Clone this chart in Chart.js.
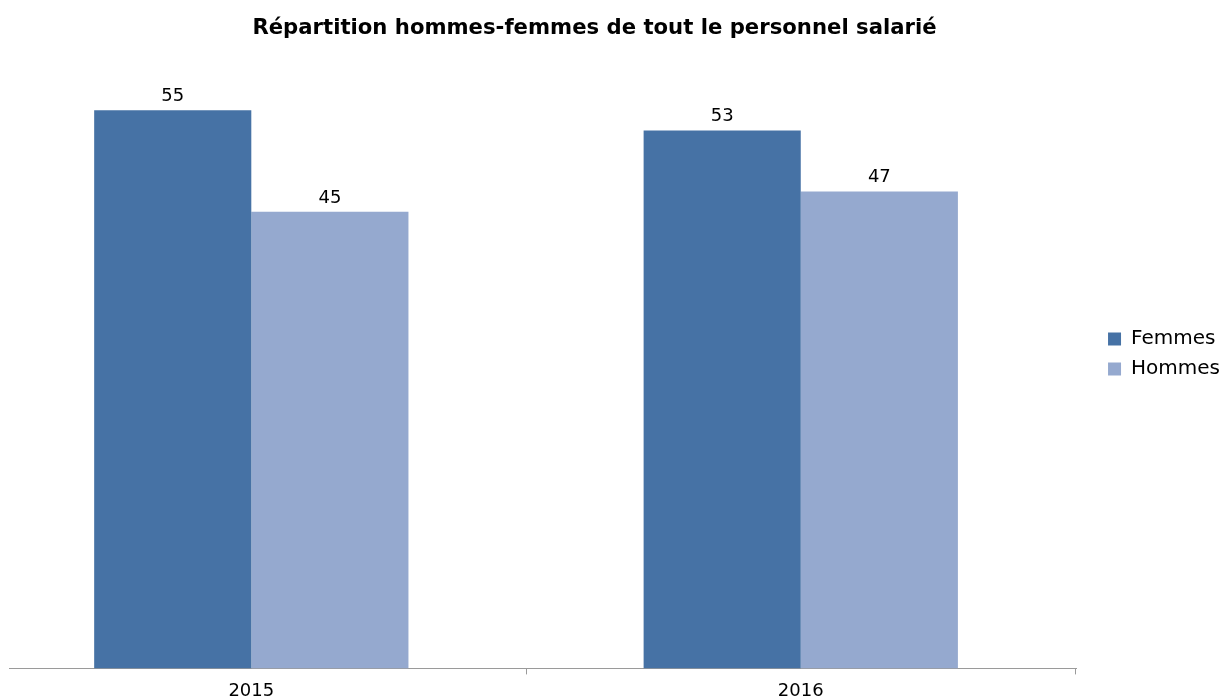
<!DOCTYPE html>
<html>
<head>
<meta charset="utf-8">
<script src="https://cdn.jsdelivr.net/npm/chart.js@4"></script>
<style>
  body { margin: 0; background: #fff; }
  canvas { display: block; }
</style>
</head>
<body>
<canvas id="genderChart" width="1224" height="700"></canvas>
<script>
// data
var years = ["2015", "2016"];
var femmes = [55, 53];
var hommes = [45, 47];

var toPoints = function (values) {
  return values.map(function (v, i) { return { x: i, y: v }; });
};

// value labels above each bar
var barLabels = {
  id: "barLabels",
  afterDatasetsDraw: function (chart) {
    var ctx = chart.ctx;
    ctx.save();
    ctx.font = "18px 'DejaVu Sans'";
    ctx.fillStyle = "#000";
    ctx.textAlign = "center";
    ctx.textBaseline = "alphabetic";
    chart.data.datasets.forEach(function (ds, di) {
      chart.getDatasetMeta(di).data.forEach(function (bar, i) {
        ctx.fillText(ds.data[i].y, bar.x, bar.y - 9);
      });
    });
    ctx.restore();
  }
};

// title sits a bit left of the canvas centre in the original
var titleShift = {
  id: "titleShift",
  afterLayout: function (chart) {
    if (chart.titleBlock) {
      chart.titleBlock.left -= 25;
      chart.titleBlock.right -= 25;
    }
  }
};

var genderCtx = document.getElementById("genderChart").getContext("2d");
var genderChart = new Chart(genderCtx, {
  type: "bar",
  data: {
    datasets: [
      {
        label: "Femmes",
        data: toPoints(femmes),
        backgroundColor: "#4672a5",
      },
      {
        label: "Hommes",
        data: toPoints(hommes),
        backgroundColor: "#95a9cf",
      },
    ],
  },
  options: {
    responsive: false,
    animation: false,
    layout: { padding: { left: 9, right: -6, top: 0, bottom: -8 } },
    datasets: {
      bar: { categoryPercentage: 0.572, barPercentage: 1.0 },
    },
    plugins: {
      title: {
        display: true,
        text: "Répartition hommes-femmes de tout le personnel salarié",
        color: "#000",
        font: { family: "DejaVu Sans", size: 21.2, weight: "bold" },
        padding: { top: 16, bottom: 18 },
      },
      legend: {
        position: "right",
        labels: {
          color: "#000",
          font: { family: "DejaVu Sans", size: 20 },
          boxWidth: 13,
          boxHeight: 13,
          padding: 10,
        },
      },
      tooltip: { enabled: false },
    },
    scales: {
      x: {
        type: "linear",
        offset: false,
        bounds: "data",
        min: -0.441,
        max: 1.501,
        afterBuildTicks: function (axis) {
          axis.ticks = years.map(function (y, i) { return { value: i }; });
        },
        ticks: {
          color: "#000",
          font: { family: "DejaVu Sans", size: 18 },
          padding: 6,
          maxRotation: 0,
          callback: function (value) { return years[value]; },
        },
        grid: {
          offset: true,
          drawOnChartArea: false,
          drawTicks: true,
          tickLength: 6,
          color: "#9a9a9a",
        },
        border: { display: true, color: "#9a9a9a", width: 1 },
      },
      y: {
        display: false,
        min: 0,
        max: 60,
      },
      gap: {
        // empty space between the plot and the legend
        type: "linear",
        position: "right",
        display: true,
        grid: { display: false },
        border: { display: false },
        ticks: { display: false },
        afterFit: function (axis) { axis.width = 22; },
      },
    },
  },
  plugins: [barLabels, titleShift],
});
</script>
</body>
</html>
